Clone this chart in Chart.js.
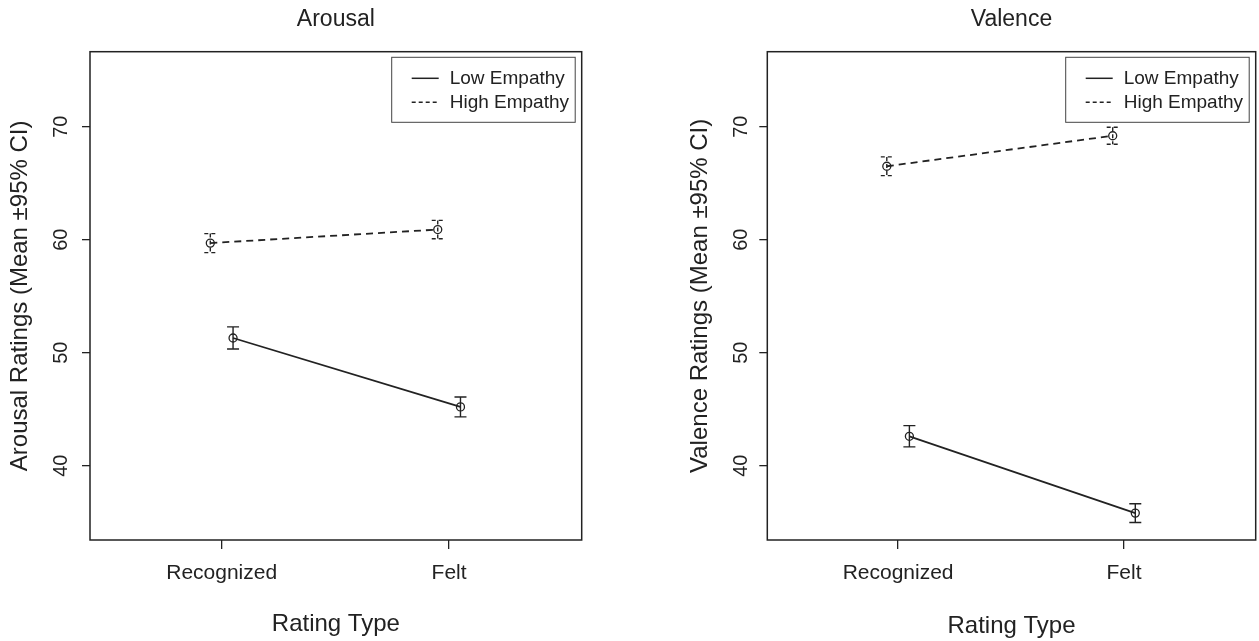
<!DOCTYPE html>
<html>
<head>
<meta charset="utf-8">
<script src="https://cdn.jsdelivr.net/npm/chart.js@4.4.0/dist/chart.umd.min.js"></script>
<style>
    html, body { margin: 0; padding: 0; background: #fff; overflow: hidden; }
    #wrap { position: relative; width: 1259px; height: 641px; overflow: hidden; }
    canvas { position: absolute; top: 0; }
</style>
</head>
<body>
<div id="wrap">
    <canvas id="ArousalChart" width="630" height="641" style="left:0"></canvas>
    <canvas id="ValenceChart" width="632" height="641" style="left:629px"></canvas>
</div>
<script>
const ratingTypes = ["Recognized", "Felt"];
const yTicks = [40, 50, 60, 70];

const arousalLow = [51.3, 45.2];
const arousalLowCI = [0.98, 0.88];
const arousalHigh = [59.7, 60.9];
const arousalHighCI = [0.84, 0.81];

const valenceLow = [42.6, 35.8];
const valenceLowCI = [0.94, 0.83];
const valenceHigh = [66.5, 69.2];
const valenceHighCI = [0.83, 0.75];

const FONT = "'Liberation Sans', Arial, Helvetica, sans-serif";
const INK = "#222";

// full frame round the plot area
const plotBox = {
    id: "plotBox",
    afterDraw(chart) {
        const { ctx, chartArea: a } = chart;
        ctx.save();
        ctx.strokeStyle = INK;
        ctx.lineWidth = 1.5;
        ctx.strokeRect(a.left, a.top, a.right - a.left, a.bottom - a.top);
        ctx.restore();
    },
};

// mean +/- 95% CI whiskers
const errorBars = {
    id: "errorBars",
    afterDatasetsDraw(chart) {
        const { ctx, scales: { y } } = chart;
        chart.data.datasets.forEach((ds, i) => {
            const meta = chart.getDatasetMeta(i);
            ctx.save();
            ctx.strokeStyle = ds.borderColor;
            ctx.lineWidth = 1.4;
            ctx.setLineDash(ds.borderDash.length ? [4, 3] : []);
            meta.data.forEach((pt, j) => {
                const v = ds.data[j].y;
                const top = y.getPixelForValue(v + ds.ci[j]);
                const bot = y.getPixelForValue(v - ds.ci[j]);
                ctx.beginPath();
                ctx.moveTo(pt.x, top); ctx.lineTo(pt.x, bot);
                ctx.moveTo(pt.x - 6, top); ctx.lineTo(pt.x + 6, top);
                ctx.moveTo(pt.x - 6, bot); ctx.lineTo(pt.x + 6, bot);
                ctx.stroke();
            });
            ctx.restore();
        });
    },
};

// y tick labels are turned like R's las=0
const yTickLabels = {
    id: "yTickLabels",
    afterDraw(chart, args, opts) {
        const { ctx, chartArea, scales: { y } } = chart;
        ctx.save();
        ctx.font = "20px " + FONT;
        ctx.fillStyle = INK;
        ctx.textAlign = "center";
        ctx.textBaseline = "middle";
        y.ticks.forEach((t) => {
            ctx.save();
            ctx.translate(chartArea.left - opts.offset, y.getPixelForValue(t.value));
            ctx.rotate(-Math.PI / 2);
            ctx.fillText(String(t.value), 0, 0);
            ctx.restore();
        });
        ctx.restore();
    },
};

const boxLegend = {
    id: "boxLegend",
    afterDraw(chart) {
        const { ctx, chartArea: a } = chart;
        const w = 183.5, h = 65;
        const left = a.right - 6.5 - w, top = a.top + 5.6;
        ctx.save();
        ctx.strokeStyle = "#444";
        ctx.lineWidth = 1;
        ctx.strokeRect(left, top, w, h);
        ctx.font = "19px " + FONT;
        ctx.textBaseline = "middle";
        ctx.fillStyle = INK;
        chart.data.datasets.forEach((ds, i) => {
            const cy = top + 21 + i * 24;
            ctx.setLineDash(ds.borderDash.length ? [4, 3] : []);
            ctx.lineWidth = 1.5;
            ctx.strokeStyle = ds.borderColor;
            ctx.beginPath();
            ctx.moveTo(left + 20, cy);
            ctx.lineTo(left + 47, cy);
            ctx.stroke();
            ctx.fillText(ds.label, left + 58, cy);
        });
        ctx.restore();
    },
};

function makePoints(values, shift) {
    return values.map((v, i) => ({ x: i + 1 + shift, y: v }));
}

function RatingChart(canvasId, title, yTitle, low, lowCI, high, highCI, L) {
    const ctx = document.getElementById(canvasId);

    new Chart(ctx, {
        type: "line",
        data: {
            datasets: [
                {
                    label: "Low Empathy",
                    data: makePoints(low, 0.05),
                    ci: lowCI,
                    borderColor: INK,
                    borderWidth: 1.8,
                    borderDash: [],
                    pointRadius: 4,
                    pointBorderWidth: 1.3,
                    pointBorderColor: INK,
                    pointBackgroundColor: "rgba(0,0,0,0)",
                    tension: 0,
                    fill: false,
                },
                {
                    label: "High Empathy",
                    data: makePoints(high, -0.05),
                    ci: highCI,
                    borderColor: INK,
                    borderWidth: 1.8,
                    borderDash: [7, 5],
                    pointRadius: 4,
                    pointBorderWidth: 1.3,
                    pointBorderColor: INK,
                    pointBackgroundColor: "rgba(0,0,0,0)",
                    tension: 0,
                    fill: false,
                },
            ],
        },
        options: {
            responsive: false,
            animation: false,
            events: [],
            layout: {
                padding: { left: 0, top: 0, right: L.rightPad, bottom: 0 },
            },
            plugins: {
                legend: { display: false },
                tooltip: { enabled: false },
                title: {
                    display: true,
                    text: title,
                    fullSize: false,
                    color: INK,
                    font: { family: FONT, size: 23, weight: "normal" },
                    padding: { top: 5.4, bottom: 18.7 },
                },
                yTickLabels: { offset: L.tickOffset },
            },
            scales: {
                x: {
                    type: "linear",
                    min: 0.421,
                    max: 2.583,
                    afterBuildTicks: (s) => { s.ticks = [1, 2].map((v) => ({ value: v })); },
                    afterFit: (s) => { s.height = 101; },
                    grid: { drawOnChartArea: false, tickLength: 9, color: INK, lineWidth: 1.3 },
                    border: { display: false },
                    ticks: {
                        autoSkip: false,
                        maxRotation: 0,
                        padding: 11.4,
                        color: INK,
                        font: { family: FONT, size: 21 },
                        callback: (v) => ratingTypes[Math.round(v) - 1],
                    },
                    title: {
                        display: true,
                        text: "Rating Type",
                        color: INK,
                        font: { family: FONT, size: 24 },
                        padding: { top: 0, bottom: L.xTitlePad },
                    },
                },
                y: {
                    type: "linear",
                    min: 33.42,
                    max: 76.64,
                    afterBuildTicks: (s) => { s.ticks = yTicks.map((v) => ({ value: v })); },
                    afterFit: (s) => { s.width = L.yAxisWidth; },
                    grid: { drawOnChartArea: false, tickLength: 8, color: INK, lineWidth: 1.3 },
                    border: { display: false },
                    ticks: { display: false },
                    title: {
                        display: true,
                        text: yTitle,
                        color: INK,
                        font: { family: FONT, size: 24 },
                        padding: { top: L.yTitlePad, bottom: 0 },
                    },
                },
            },
        },
        plugins: [errorBars, plotBox, yTickLabels, boxLegend],
    });
}

RatingChart("ArousalChart", "Arousal", "Arousal Ratings (Mean \u00b195% CI)",
    arousalLow, arousalLowCI, arousalHigh, arousalHighCI,
    { yAxisWidth: 90, rightPad: 48.3, yTitlePad: 6, xTitlePad: 2.4, tickOffset: 28.6 });

RatingChart("ValenceChart", "Valence", "Valence Ratings (Mean \u00b195% CI)",
    valenceLow, valenceLowCI, valenceHigh, valenceHighCI,
    { yAxisWidth: 138.3, rightPad: 2.1, yTitlePad: 57.1, xTitlePad: 0, tickOffset: 25.9 });
</script>
</body>
</html>
